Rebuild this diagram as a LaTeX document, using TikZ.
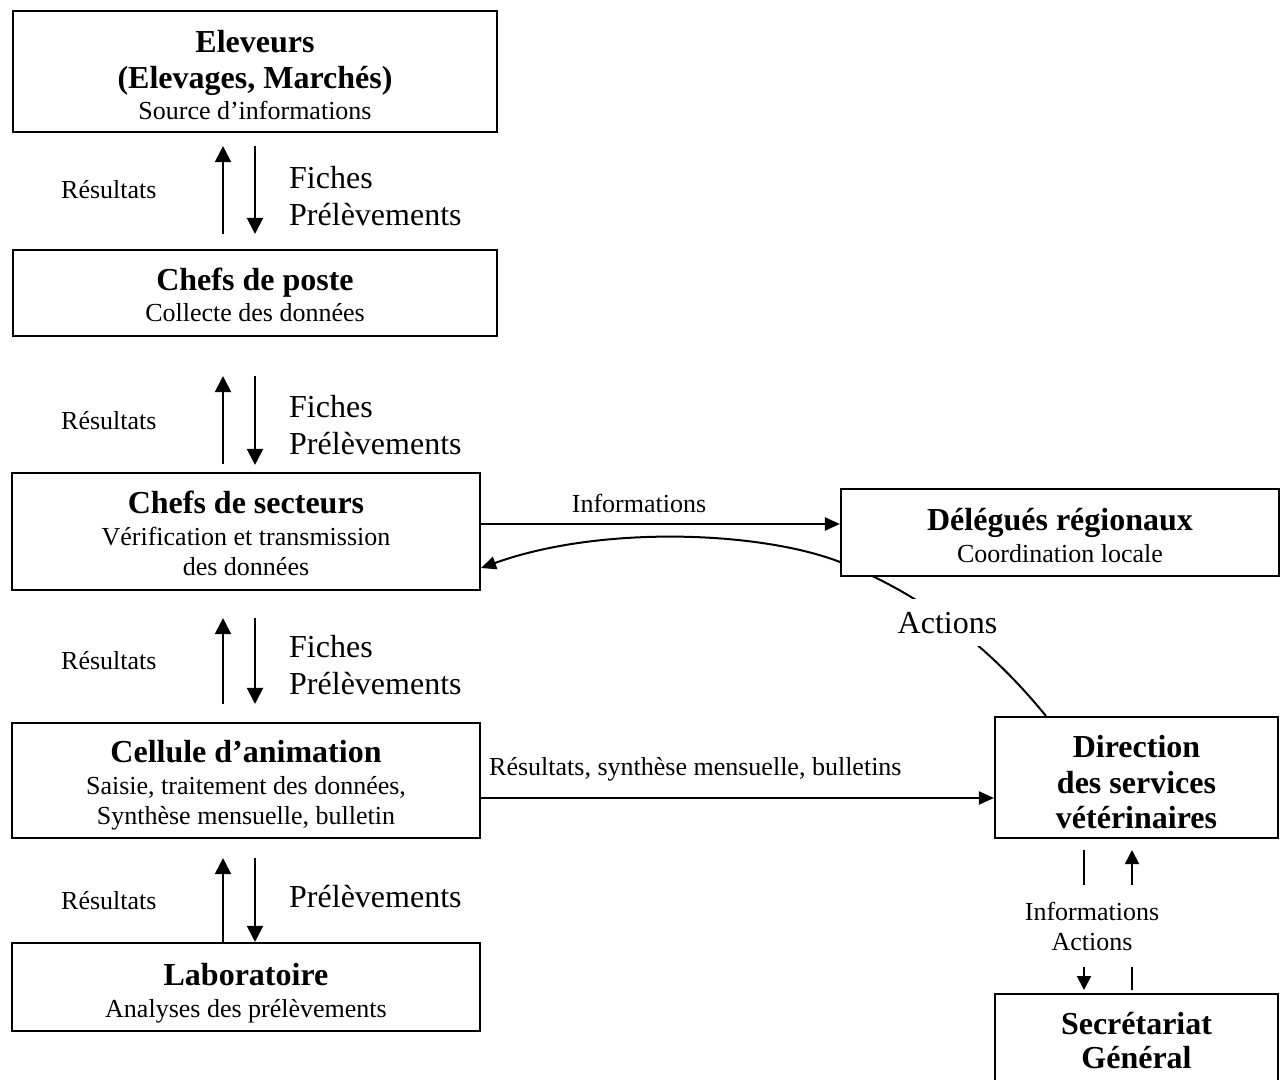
\documentclass[tikz,border=0pt]{standalone}
\usepackage{fontspec}
\setmainfont{Liberation Serif}
\usetikzlibrary{arrows.meta}
\pgfdeclarelayer{back}
\pgfdeclarelayer{bg}
\pgfsetlayers{back,bg,main}
\newcommand\szS{\fontsize{26}{30}\selectfont}
\newcommand\szL{\fontsize{32}{37}\selectfont}
\newcommand\ttl[1]{{\fontsize{32}{36}\selectfont\bfseries #1}}
\begin{document}
\begin{tikzpicture}[x=1pt,y=-1pt,
  box/.style={draw, line width=2.1pt, fill=white, align=center, inner sep=0pt, font=\szS, text depth=0pt},
  arr/.style={line width=2pt, -{Triangle[length=16pt,width=16pt]}},
  arrs/.style={line width=2pt, -{Triangle[length=15pt,width=13pt]}},
  arrxs/.style={line width=2pt, -{Triangle[length=14pt,width=14pt]}},
  plain/.style={line width=2pt},
  lbl/.style={inner sep=0pt, font=\szS},
  lblL/.style={inner sep=0pt, font=\szL, align=left},
]
\useasboundingbox (0,0) rectangle (1282,1079);
\begin{pgfonlayer}{back}
\fill[white] (0,0) rectangle (1282,1079);
\end{pgfonlayer}
\clip (0,0) rectangle (1282,1079);

% boxes
\node[box, minimum width=484, minimum height=121, text height=95pt] (elev) at (255,71.5)
  {\ttl{Eleveurs}\\[6pt]\ttl{(Elevages, Marchés)}\\[1pt]Source d’informations};
\node[box, minimum width=484, minimum height=86, text height=57pt] (poste) at (255,293)
  {\ttl{Chefs de poste}\\[1pt]Collecte des données};
\node[box, minimum width=468, minimum height=117, text height=87pt] (sect) at (246,531.5)
  {\ttl{Chefs de secteurs}\\[2pt]Vérification et transmission\\des données};
\node[box, minimum width=468, minimum height=115, text height=88pt] (cell) at (246,780.5)
  {\ttl{Cellule d’animation}\\[2pt]Saisie, traitement des données,\\Synthèse mensuelle, bulletin};
\node[box, minimum width=468, minimum height=88, text height=61pt] (labo) at (246,987)
  {\ttl{Laboratoire}\\[2pt]Analyses des prélèvements};
\node[box, minimum width=438, minimum height=87, text height=60pt] (dele) at (1060,532.5)
  {\ttl{Délégués régionaux}\\[2pt]Coordination locale};
\node[box, minimum width=283, minimum height=121, text height=101pt] (dir) at (1136.5,777.5)
  {\ttl{Direction}\\[6pt]\ttl{des services}\\[5pt]\ttl{vétérinaires}};
\node[box, minimum width=283, anchor=north, text height=74pt, text depth=40pt] (sec) at (1136.5,993)
  {\ttl{Secrétariat}\\[4pt]\ttl{Général}};

% left side labels
\node[lbl, anchor=base west] (r1) at (61,198) {Résultats};
\node[lbl, anchor=base west] (r2) at (61,429) {Résultats};
\node[lbl, anchor=base west] (r3) at (61,669) {Résultats};
\node[lbl, anchor=base west] (r4) at (61,909) {Résultats};
\node[lblL, anchor=west] (f1) at (289,196.5) {Fiches\\Prélèvements};
\node[lblL, anchor=west] (f2) at (289,425.5) {Fiches\\Prélèvements};
\node[lblL, anchor=west] (f3) at (289,665.5) {Fiches\\Prélèvements};
\node[lblL, anchor=base west] (f4) at (289,907) {Prélèvements};

% vertical arrows
\draw[arr, shorten <=15pt, shorten >=13pt] (223,0 |- poste.north) -- (223,0 |- elev.south);
\draw[arr, shorten <=13pt, shorten >=15pt] (255,0 |- elev.south) -- (255,0 |- poste.north);
\draw[arr, shorten <=8pt, shorten >=39pt] (223,0 |- sect.north) -- (223,0 |- poste.south);
\draw[arr, shorten <=39pt, shorten >=7pt] (255,0 |- poste.south) -- (255,0 |- sect.north);
\draw[arr, shorten <=18pt, shorten >=27pt] (223,0 |- cell.north) -- (223,0 |- sect.south);
\draw[arr, shorten <=27pt, shorten >=18pt] (255,0 |- sect.south) -- (255,0 |- cell.north);
\draw[arr, shorten >=19pt] (223,0 |- labo.north) -- (223,0 |- cell.south);
\draw[arr, shorten <=19pt] (255,0 |- cell.south) -- (255,0 |- labo.north);

% horizontal arrows
\draw[arrs] (sect.east |- 0,524) -- (dele.west |- 0,524);
\node[lbl, anchor=base] (linfo) at (639,512) {Informations};
\draw[arrs] (cell.east |- 0,798) -- (dir.west |- 0,798);
\node[lbl, anchor=base west] (lres) at (489,775) {Résultats, synthèse mensuelle, bulletins};

% Actions curve (behind the Délégués box)
\begin{pgfonlayer}{bg}
\draw[arrs] ([xshift=52pt]dir.north west) .. controls (1010,672) and (945,603) .. (840,562)
  .. controls (760,531) and (600,525) .. ([yshift=-36.5pt]sect.east);
\node[fill=white, inner xsep=4pt, inner ysep=13pt, font=\szL, anchor=base] (lact) at (947.5,633) {Actions};
\end{pgfonlayer}

% Direction <-> Secretariat
\node[lbl, align=center, inner ysep=17pt] (lia) at (1092,926) {Informations\\Actions};
\draw[plain, shorten <=11pt] (1084,0 |- dir.south) -- (1084,0 |- lia.north);
\draw[arrxs, shorten >=3pt] (1084,0 |- lia.south) -- (1084,0 |- sec.north);
\draw[arrxs, shorten >=11pt] (1132,0 |- lia.north) -- (1132,0 |- dir.south);
\draw[plain, shorten <=3pt] (1132,0 |- sec.north) -- (1132,0 |- lia.south);
\end{tikzpicture}
\end{document}
